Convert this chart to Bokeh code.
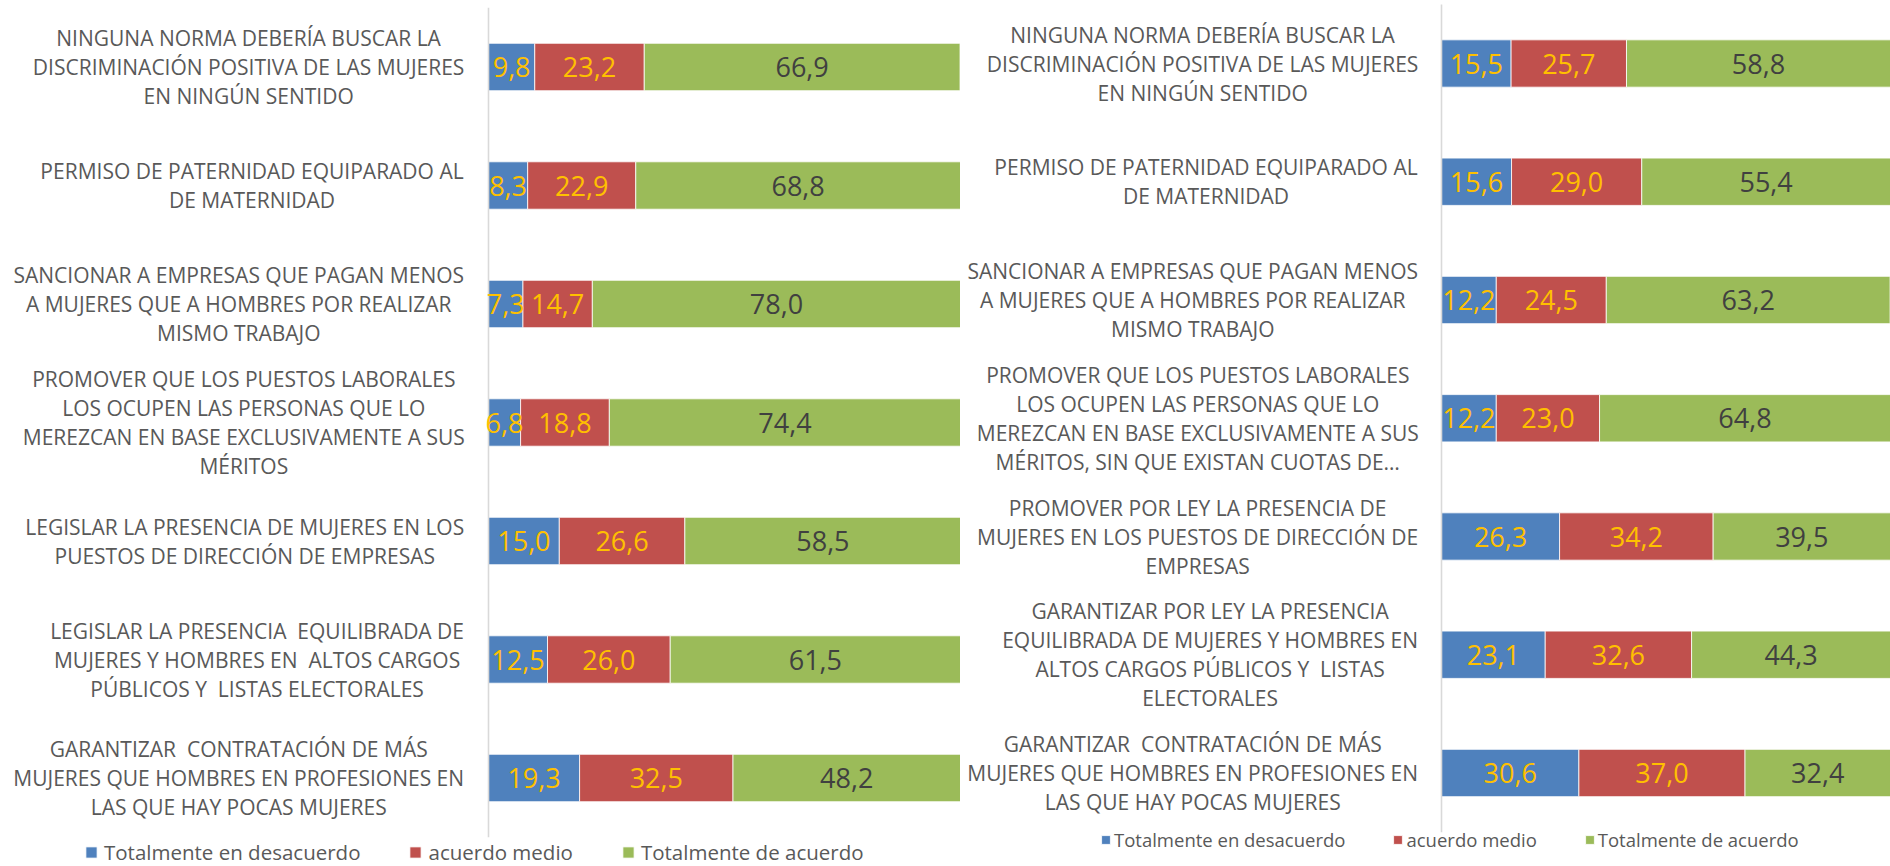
import unicodedata
from bokeh.plotting import figure
from bokeh.models import ColumnDataSource, Range1d, Legend, LegendItem
from bokeh.layouts import row
from bokeh.embed import file_html
from bokeh.resources import INLINE
from bokeh.core.properties import value

# ---------------- data ----------------
series_names = ["Totalmente en desacuerdo", "acuerdo medio", "Totalmente de acuerdo"]
series_colors = ["#4F81BD", "#C0504D", "#9BBB59"]

left_labels = [
    ["NINGUNA NORMA DEBERÍA BUSCAR LA", "DISCRIMINACIÓN POSITIVA DE LAS MUJERES", "EN NINGÚN SENTIDO"],
    ["PERMISO DE PATERNIDAD EQUIPARADO AL", "DE MATERNIDAD"],
    ["SANCIONAR A EMPRESAS QUE PAGAN MENOS", "A MUJERES QUE A HOMBRES POR REALIZAR", "MISMO TRABAJO"],
    ["PROMOVER QUE LOS PUESTOS LABORALES", "LOS OCUPEN LAS PERSONAS QUE LO",
     "MEREZCAN EN BASE EXCLUSIVAMENTE A SUS", "MÉRITOS"],
    ["LEGISLAR LA PRESENCIA DE MUJERES EN LOS", "PUESTOS DE DIRECCIÓN DE EMPRESAS"],
    ["LEGISLAR LA PRESENCIA  EQUILIBRADA DE", "MUJERES Y HOMBRES EN  ALTOS CARGOS",
     "PÚBLICOS Y  LISTAS ELECTORALES"],
    ["GARANTIZAR  CONTRATACIÓN DE MÁS", "MUJERES QUE HOMBRES EN PROFESIONES EN",
     "LAS QUE HAY POCAS MUJERES"],
]
left_desacuerdo = [9.8, 8.3, 7.3, 6.8, 15.0, 12.5, 19.3]
left_medio = [23.2, 22.9, 14.7, 18.8, 26.6, 26.0, 32.5]
left_acuerdo = [66.9, 68.8, 78.0, 74.4, 58.5, 61.5, 48.2]

right_labels = [
    ["NINGUNA NORMA DEBERÍA BUSCAR LA", "DISCRIMINACIÓN POSITIVA DE LAS MUJERES", "EN NINGÚN SENTIDO"],
    ["PERMISO DE PATERNIDAD EQUIPARADO AL", "DE MATERNIDAD"],
    ["SANCIONAR A EMPRESAS QUE PAGAN MENOS", "A MUJERES QUE A HOMBRES POR REALIZAR", "MISMO TRABAJO"],
    ["PROMOVER QUE LOS PUESTOS LABORALES", "LOS OCUPEN LAS PERSONAS QUE LO",
     "MEREZCAN EN BASE EXCLUSIVAMENTE A SUS", "MÉRITOS, SIN QUE EXISTAN CUOTAS DE…"],
    ["PROMOVER POR LEY LA PRESENCIA DE", "MUJERES EN LOS PUESTOS DE DIRECCIÓN DE", "EMPRESAS"],
    ["GARANTIZAR POR LEY LA PRESENCIA", "EQUILIBRADA DE MUJERES Y HOMBRES EN",
     "ALTOS CARGOS PÚBLICOS Y  LISTAS", "ELECTORALES"],
    ["GARANTIZAR  CONTRATACIÓN DE MÁS", "MUJERES QUE HOMBRES EN PROFESIONES EN",
     "LAS QUE HAY POCAS MUJERES"],
]
right_desacuerdo = [15.5, 15.6, 12.2, 12.2, 26.3, 23.1, 30.6]
right_medio = [25.7, 29.0, 24.5, 23.0, 34.2, 32.6, 37.0]
right_acuerdo = [58.8, 55.4, 63.2, 64.8, 39.5, 44.3, 32.4]

# ---------------- helpers ----------------
FONT = "Open Sans"
# approximate Open Sans advance widths (units per em = 2048)
OS_W = {" ": 532, "\u00a0": 532, "A": 1296, "B": 1327, "C": 1292, "D": 1493, "E": 1139, "F": 1057,
        "G": 1491, "H": 1511, "I": 571, "J": 547, "K": 1257, "L": 1073, "M": 1849, "N": 1556,
        "O": 1599, "P": 1251, "Q": 1599, "R": 1282, "S": 1098, "T": 1124, "U": 1503, "V": 1219,
        "W": 1895, "X": 1165, "Y": 1155, "Z": 1124, ",": 500, ".": 545, "…": 1636}


def text_width(s, size):
    tot = 0
    for ch in s:
        base = unicodedata.normalize("NFD", ch)[0] if ch not in ("…", "\u00a0") else ch
        tot += OS_W.get(base, 1200)
    return tot / 2048.0 * size


def keep_spaces(s):
    # keep double spaces visible in SVG text
    return s.replace("  ", " \u00a0")


def fmt(v):
    return f"{v:.1f}".replace(".", ",")


PAGE_TOP = 0
FIG_H = 866


def panel(labels, des, med, acu, width, axis_px, first_center, spacing_px, gap_px,
          leg_x, leg_y, leg_font, leg_glyph, leg_standoff, leg_spacing):
    n = len(labels)
    ys = [n - 1 - i for i in range(n)]
    x_start = -axis_px * 100.0 / (width - axis_px)
    y_end = (n - 1) + (first_center - PAGE_TOP) / spacing_px
    y_start = y_end - FIG_H / spacing_px

    p = figure(width=width, height=FIG_H, x_range=Range1d(x_start, 100), y_range=Range1d(y_start, y_end),
               output_backend="svg", toolbar_location=None, min_border=0,
               min_border_left=0, min_border_right=0, min_border_top=0, min_border_bottom=0)
    p.xaxis.visible = False
    p.yaxis.visible = False
    p.xgrid.visible = False
    p.ygrid.visible = False
    p.outline_line_color = None
    p.background_fill_color = "white"
    p.border_fill_color = "white"

    src = ColumnDataSource(dict(y=ys, des=des, med=med, acu=acu))
    rs = p.hbar_stack(["des", "med", "acu"], y="y", height=0.4, color=series_colors,
                      line_color="white", line_width=0.8, source=src)

    # vertical axis line
    p.segment(x0=[0], y0=[-0.5], x1=[0], y1=[n - 0.5], line_color="#D9D9D9", line_width=1.6)

    # data labels
    lx, ly, lt, lc = [], [], [], []
    for i in range(n):
        segs = [des[i], med[i], acu[i]]
        left = 0.0
        for j, v in enumerate(segs):
            lx.append(left + v / 2.0)
            ly.append(ys[i])
            lt.append(fmt(v))
            lc.append("#FFC000" if j < 2 else "#404040")
            left += v
    p.text(x="x", y="y", text="t", text_color="c", source=ColumnDataSource(dict(x=lx, y=ly, t=lt, c=lc)),
           text_font=value(FONT), text_font_size="27px", text_align="center", text_baseline="middle")

    # category labels (lines centred within a right-aligned block)
    cx, cy, ct, cxo, cyo = [], [], [], [], []
    line_h = 29
    for i, lines in enumerate(labels):
        lines = [keep_spaces(s) for s in lines]
        maxw = max(text_width(s, 21) for s in lines)
        for k, s in enumerate(lines):
            cx.append(0)
            cy.append(ys[i])
            ct.append(s)
            cxo.append(-(gap_px + maxw / 2.0))
            cyo.append((k - (len(lines) - 1) / 2.0) * line_h)
    p.text(x="x", y="y", text="t", x_offset="xo", y_offset="yo",
           source=ColumnDataSource(dict(x=cx, y=cy, t=ct, xo=cxo, yo=cyo)),
           text_font=value(FONT), text_font_size="21px", text_color="#595959",
           text_align="center", text_baseline="middle")

    legend = Legend(items=[LegendItem(label=nm, renderers=[r]) for nm, r in zip(series_names, rs)],
                    orientation="horizontal", location=(leg_x, leg_y),
                    label_text_font=FONT, label_text_font_size=leg_font, label_text_color="#595959",
                    glyph_width=leg_glyph, glyph_height=leg_glyph, label_standoff=leg_standoff,
                    spacing=leg_spacing, padding=0, margin=0, border_line_color=None,
                    background_fill_alpha=0)
    p.add_layout(legend)
    return p


p_left = panel(left_labels, left_desacuerdo, left_medio, left_acuerdo,
               width=960, axis_px=488, first_center=66.5, spacing_px=118.5, gap_px=24,
               leg_x=84, leg_y=0, leg_font="20.5px", leg_glyph=14, leg_standoff=6, leg_spacing=48)
p_right = panel(right_labels, right_desacuerdo, right_medio, right_acuerdo,
                width=930, axis_px=481, first_center=63, spacing_px=118.25, gap_px=23,
                leg_x=140, leg_y=14, leg_font="18.5px", leg_glyph=11, leg_standoff=3, leg_spacing=47)

layout = row(p_left, p_right)
open("out.html", "w").write(file_html(layout, INLINE))
